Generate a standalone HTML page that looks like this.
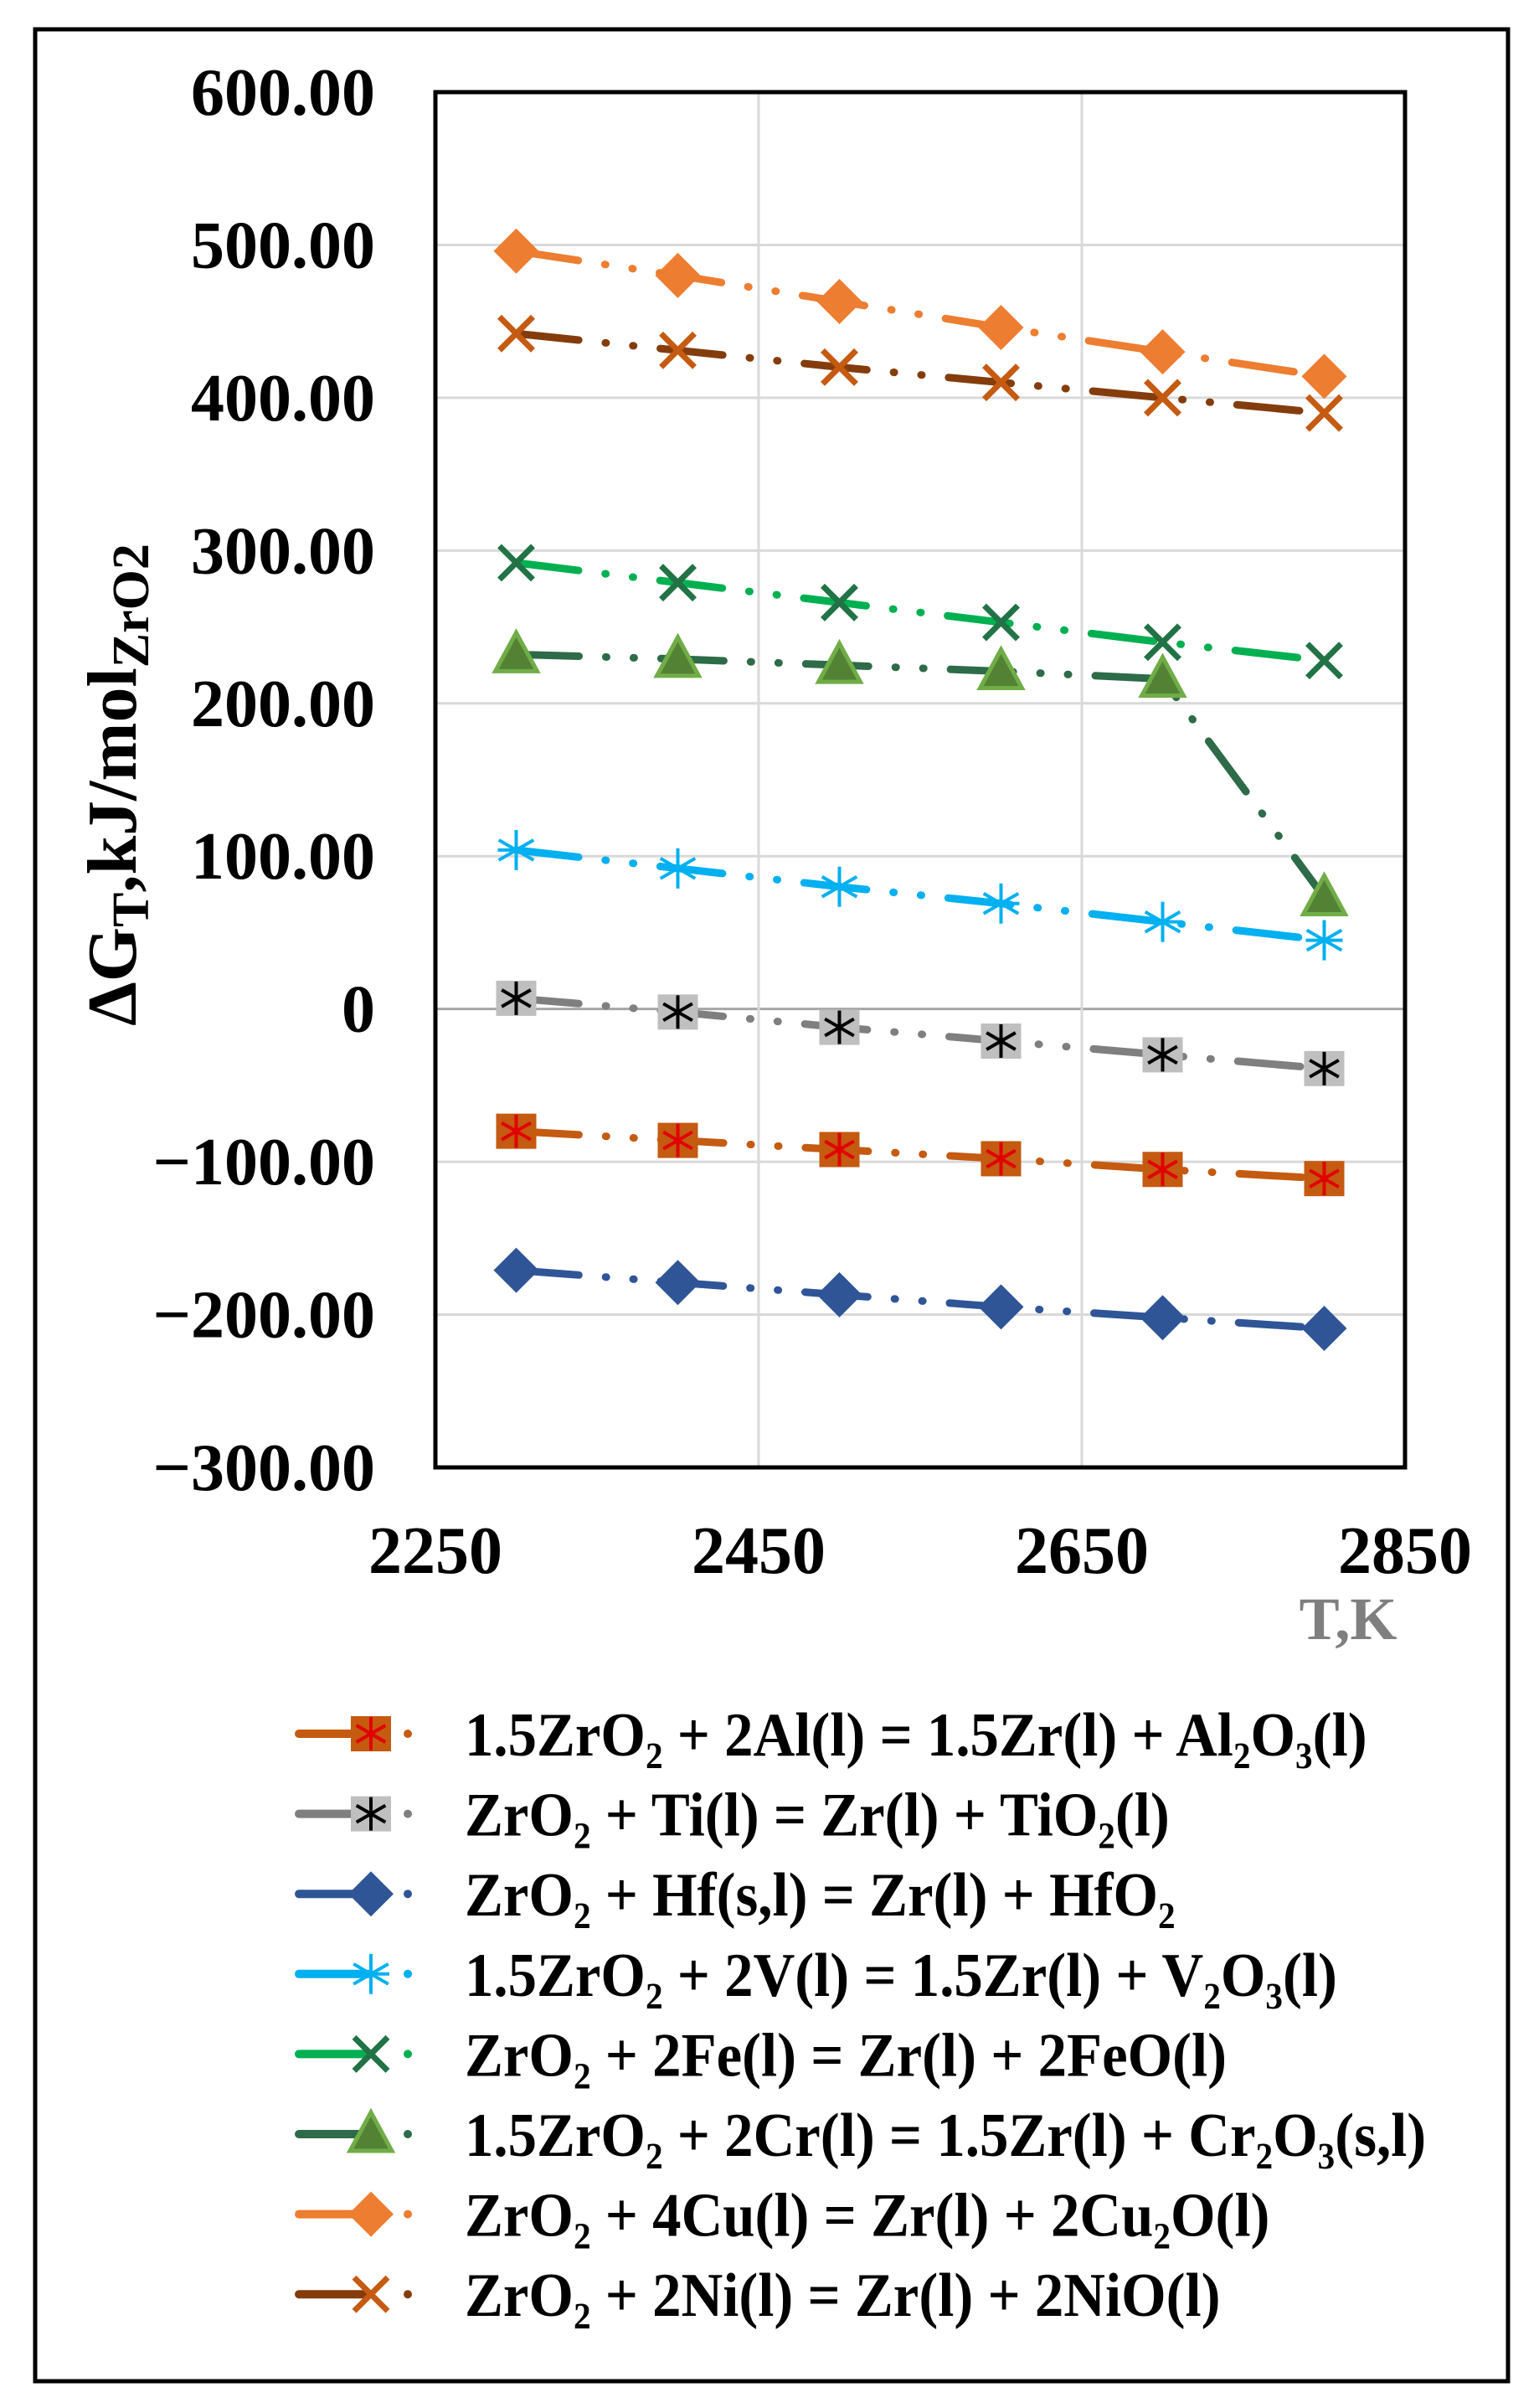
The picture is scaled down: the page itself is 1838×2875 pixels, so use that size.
<!DOCTYPE html>
<html><head><meta charset="utf-8"><style>
html,body{margin:0;padding:0;background:#fff}
svg{display:block}
text{font-family:"Liberation Serif",serif;font-weight:bold}
</style></head><body>
<svg id="chart" width="1838" height="2875" viewBox="0 0 1838 2875" xmlns="http://www.w3.org/2000/svg">
<rect x="42" y="35" width="1759" height="2808" fill="#fff" stroke="#000" stroke-width="5"/>
<g id="grid"></g>
<g id="series"></g>
<rect x="520" y="110" width="1158" height="1642" fill="none" stroke="#000" stroke-width="5"/>
<g id="axes"></g>
<text transform="translate(162,937) rotate(-90)" text-anchor="middle" font-size="84">ΔG<tspan font-size="62" dy="15">T</tspan><tspan dy="-15">,kJ/mol</tspan><tspan font-size="62" dy="15">ZrO2</tspan></text>
<text x="1610" y="1957" text-anchor="middle" font-size="72" fill="#7f7f7f">T,K</text>
<g id="legend"></g>
</svg>
<script>
const temps=[2300,2400,2500,2600,2700,2800];
const xTicks=[2250,2450,2650,2850];
const yTicks=[600,500,400,300,200,100,0,-100,-200,-300];
const yTickLabels=["600.00","500.00","400.00","300.00","200.00","100.00","0","\u2212100.00","\u2212200.00","\u2212300.00"];
const alVals=[-80,-86,-92,-98,-105,-111];
const tiVals=[7,-2,-12,-21,-30,-39];
const hfVals=[-171,-179,-187,-195,-202,-209];
const vVals=[104,92,80,69,57,45];
const feVals=[292,279,266,253,240,228];
const crVals=[232,229,225,221,216,73];
const cuVals=[496,480,463,446,430,414];
const niVals=[442,431,420,410,400,390];
const seriesNames=["1.5ZrO\u2082 + 2Al(l) = 1.5Zr(l) + Al\u2082O\u2083(l)","ZrO\u2082 + Ti(l) = Zr(l) + TiO\u2082(l)","ZrO\u2082 + Hf(s,l) = Zr(l) + HfO\u2082","1.5ZrO\u2082 + 2V(l) = 1.5Zr(l) + V\u2082O\u2083(l)","ZrO\u2082 + 2Fe(l) = Zr(l) + 2FeO(l)","1.5ZrO\u2082 + 2Cr(l) = 1.5Zr(l) + Cr\u2082O\u2083(s,l)","ZrO\u2082 + 4Cu(l) = Zr(l) + 2Cu\u2082O(l)","ZrO\u2082 + 2Ni(l) = Zr(l) + 2NiO(l)"];
const NS="http://www.w3.org/2000/svg";
const X0=520,X1=1678,Y0=110,Y1=1752;
function xs(v){return X0+(v-2250)/600*(X1-X0);}
function ys(v){return Y0+(600-v)/900*(Y1-Y0);}
function mk(tag,attrs,parent){const e=document.createElementNS(NS,tag);for(const k in attrs)e.setAttribute(k,attrs[k]);parent.appendChild(e);return e;}
const grid=document.getElementById('grid'),axes=document.getElementById('axes'),ser=document.getElementById('series'),leg=document.getElementById('legend');
yTicks.forEach((t,i)=>{
  const l=mk('line',{x1:X0,x2:X1,y1:ys(t),y2:ys(t),stroke:t===0?'#a6a6a6':'#d9d9d9','stroke-width':3},grid);
  
  
  const tx=mk('text',{x:448,y:ys(t)+27,'text-anchor':'end','font-size':80},axes);
  
  
  tx.textContent=yTickLabels[i];
});
xTicks.forEach(t=>{
  if(t>2250&&t<2850){const l=mk('line',{x1:xs(t),x2:xs(t),y1:Y0,y2:Y1,stroke:'#d9d9d9','stroke-width':3},grid);
  
  }
  const tx=mk('text',{x:xs(t),y:1878,'text-anchor':'middle','font-size':80},axes);
  
  
  tx.textContent=t;
});
function asterisk(g,x,y,s,c,w){for(let a=0;a<3;a++){const ang=a*Math.PI/3+Math.PI/2;mk('line',{x1:x-s*Math.cos(ang),y1:y-s*Math.sin(ang),x2:x+s*Math.cos(ang),y2:y+s*Math.sin(ang),stroke:c,'stroke-width':w},g);}}
function cross(g,x,y,s,c,w){mk('line',{x1:x-s,y1:y-s,x2:x+s,y2:y+s,stroke:c,'stroke-width':w},g);mk('line',{x1:x-s,y1:y+s,x2:x+s,y2:y-s,stroke:c,'stroke-width':w},g);}
function marker(g,type,x,y){
  if(type==='al'){mk('rect',{x:x-24,y:y-21,width:48,height:42,fill:'#c55a11'},g);asterisk(g,x,y,20,'#e00000',4);}
  else if(type==='ti'){mk('rect',{x:x-24,y:y-21,width:48,height:42,fill:'#bfbfbf'},g);asterisk(g,x,y,20,'#000',4);}
  else if(type==='hf'){mk('polygon',{points:`${x},${y-27} ${x+27},${y} ${x},${y+27} ${x-27},${y}`,fill:'#2f5597'},g);}
  else if(type==='cu'){mk('polygon',{points:`${x},${y-27} ${x+27},${y} ${x},${y+27} ${x-27},${y}`,fill:'#ed7d31'},g);}
  else if(type==='v'){asterisk(g,x,y,24,'#00b0f0',4);mk('line',{x1:x-22,y1:y,x2:x+22,y2:y,stroke:'#00b0f0','stroke-width':4},g);}
  else if(type==='fe'){cross(g,x,y,20,'#217346',7);}
  else if(type==='ni'){cross(g,x,y,20,'#c55a11',7);}
  else if(type==='cr'){mk('polygon',{points:`${x},${y-26} ${x+25},${y+20} ${x-25},${y+20}`,fill:'#548235',stroke:'#70ad47','stroke-width':5},g);}
}
const seriesList=[
 {k:'al',v:alVals,c:'#c55a11'},{k:'ti',v:tiVals,c:'#7f7f7f'},{k:'hf',v:hfVals,c:'#2f5597'},{k:'v',v:vVals,c:'#00b0f0'},
 {k:'fe',v:feVals,c:'#00b050'},{k:'cr',v:crVals,c:'#2e6b48'},{k:'cu',v:cuVals,c:'#ed7d31'},{k:'ni',v:niVals,c:'#843c0c'}];
const dash='75 32 1 32 1 32';
seriesList.forEach((s,i)=>{
  const g=mk('g',{},ser);
  
  
  const pts=temps.map((t,j)=>xs(t)+','+ys(s.v[j])).join(' ');
  const pl=mk('polyline',{points:pts,fill:'none',stroke:s.c,'stroke-width':9,'stroke-dasharray':dash,'stroke-linecap':'round'},g);
  
  
  temps.forEach((t,j)=>{const mg=mk('g',{},g);
    
    
    marker(mg,s.k,xs(t),ys(s.v[j]));});
  const ly=2070+i*95.6;
  const lg=mk('g',{},leg);
  
  
  mk('line',{x1:357,x2:440,y1:ly,y2:ly,stroke:s.c,'stroke-width':10,'stroke-linecap':'round'},lg);
  mk('circle',{cx:487,cy:ly,r:5,fill:s.c},lg);
  marker(lg,s.k,443,ly);
  const tx=mk('text',{x:555,y:ly+26,'font-size':74},lg);
  
  
  tx.textContent=seriesNames[i];
  tx.setAttribute('transform',`translate(555,0) scale(0.93,1) translate(-555,0)`);
});
</script>
</body></html>
